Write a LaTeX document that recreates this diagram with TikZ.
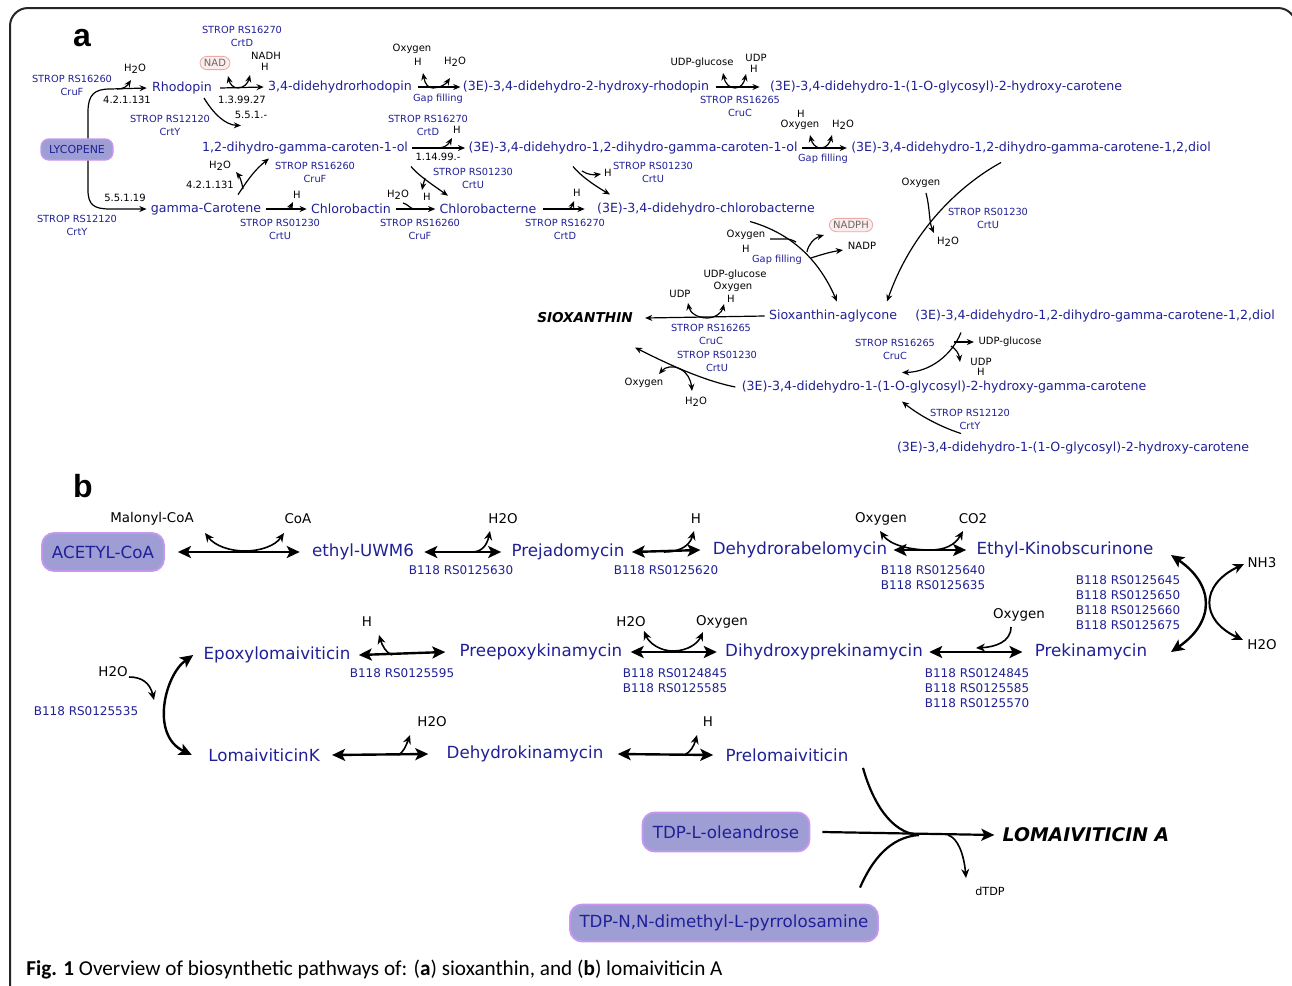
\documentclass[tikz,border=0pt]{standalone}
\usepackage{fontspec}
\setmainfont{DejaVu Sans}
\newfontfamily\capfont{Carlito}
\newfontfamily\lblfont{Liberation Sans}
\usetikzlibrary{arrows.meta}
\definecolor{nblue}{RGB}{32,32,150}
\definecolor{boxfill}{RGB}{158,158,212}
\definecolor{boxdraw}{RGB}{200,150,240}
\definecolor{pinkfill}{RGB}{252,236,236}
\definecolor{pinkdraw}{RGB}{232,170,170}
\definecolor{graytxt}{RGB}{105,105,105}
\newcommand\hto{H\raisebox{-0.35ex}{2}O}
\tikzset{
 na/.style={text=nblue,font=\fontsize{6.3}{7}\selectfont,inner sep=0pt},
 ga/.style={text=nblue,font=\fontsize{4.9}{6.5}\selectfont,inner sep=0pt,align=center},
 ka/.style={text=black,font=\fontsize{5}{6}\selectfont,inner sep=0pt,align=center},
 ra/.style={draw,line width=0.6pt,-{Stealth[length=3.6pt,width=3pt]}},
 la/.style={draw,line width=0.6pt},
 nb/.style={text=nblue,font=\fontsize{8.35}{9}\selectfont,inner sep=0pt},
 gb/.style={text=nblue,font=\fontsize{6}{7.5}\selectfont,inner sep=0pt,align=center},
 kb/.style={font=\fontsize{6.7}{8}\selectfont,inner sep=0pt},
 rb/.style={draw,line width=1.2pt,{Stealth[length=6.5pt,width=6pt,inset=1.5pt]}-{Stealth[length=6.5pt,width=6pt,inset=1.5pt]}},
 sb/.style={draw,line width=0.8pt,-{Stealth[length=4.5pt,width=4pt]}},
 lb/.style={draw,line width=1.1pt},
 boxa/.style={draw=boxdraw,line width=0.7pt,fill=boxfill,rounded corners=4pt,text=nblue,font=\fontsize{5.5}{6}\selectfont,minimum width=36pt,minimum height=10.5pt,inner sep=0pt},
 boxb/.style={draw=boxdraw,line width=0.9pt,fill=boxfill,rounded corners=6pt,text=nblue,font=\fontsize{8.35}{9}\selectfont,minimum height=19pt,inner sep=0pt},
 pill/.style={draw=pinkdraw,fill=pinkfill,text=graytxt,rounded corners=3.5pt,font=\fontsize{5}{6}\selectfont,inner xsep=2pt,inner ysep=1.5pt},
}
\begin{document}
\begin{tikzpicture}[x=0.5pt,y=-0.5pt]
\useasboundingbox (0,0) rectangle (1292,986);
\draw[line width=1pt,black!85,rounded corners=9pt] (10,8) rectangle (1296,1100);
% ---------- panel a ----------
\node[font=\lblfont\bfseries\fontsize{16}{16}\selectfont,inner sep=0pt] (la) at (82,38) {a};
\node[boxa] (lyc) at (77,149.5) {LYCOPENE};
\node[na] (rho) at (182,88) {Rhodopin};
\node[na] (dhr) at (340,87) {3,4-didehydrorhodopin};
\node[na] (hr) at (586,87) {(3E)-3,4-didehydro-2-hydroxy-rhodopin};
\node[na] (gc1) at (946,87) {(3E)-3,4-didehydro-1-(1-O-glycosyl)-2-hydroxy-carotene};
\node[na] (dgc) at (305,148) {1,2-dihydro-gamma-caroten-1-ol};
\node[na] (ddgc) at (633,148) {(3E)-3,4-didehydro-1,2-dihydro-gamma-caroten-1-ol};
\node[na] (diol) at (1031,148) {(3E)-3,4-didehydro-1,2-dihydro-gamma-carotene-1,2,diol};
\node[na] (gcar) at (206,209) {gamma-Carotene};
\node[na] (cbt) at (351,209) {Chlorobactin};
\node[na] (cbn) at (488,209) {Chlorobacterne};
\node[na] (dcbn) at (706,209) {(3E)-3,4-didehydro-chlorobacterne};
\node[font=\bfseries\itshape\fontsize{6.8}{7}\selectfont,inner sep=0pt] (siox) at (585,318) {SIOXANTHIN};
\node[na] (agly) at (833,316) {Sioxanthin-aglycone};
\node[na] (diol2) at (1095,316) {(3E)-3,4-didehydro-1,2-dihydro-gamma-carotene-1,2,diol};
\node[na] (ggc) at (944,387) {(3E)-3,4-didehydro-1-(1-O-glycosyl)-2-hydroxy-gamma-carotene};
\node[na] (gc2) at (1073,448) {(3E)-3,4-didehydro-1-(1-O-glycosyl)-2-hydroxy-carotene};

% lycopene -> rhodopin
\draw[ra] ([xshift=5.5pt]lyc.north) -- (88,112) .. controls (88,95) and (94,89) .. (110,89) -- ([xshift=-2.5pt]rho.west);
\draw[ra] (117,89) .. controls (124,89) and (127,86) .. (131,80);
\node[ka] at (135,69) {\hto};
\node[ka] at (127,100) {4.2.1.131};
\node[ga] at (72,85.5) {STROP RS16260\\CruF};
% lycopene -> gamma-carotene
\draw[ra] ([xshift=5.5pt]lyc.south) -- (88,190) .. controls (88,205) and (94,209) .. (110,209) -- ([xshift=-2pt]gcar.west);
\node[ka] at (125,198) {5.5.1.19};
\node[ga] at (77,225) {STROP RS12120\\CrtY};
% rhodopin -> 3,4-didehydrorhodopin
\draw[ra] ([xshift=4pt]rho.east) -- ([xshift=-2pt]dhr.west);
\draw[ra] (238,88) .. controls (233,88) and (230,84) .. (228,76);
\draw[ra] (238,88) .. controls (244,88) and (248,83) .. (250,75);
\node[pill] (nad) at (215,63) {NAD};
\node[ka] at (266,56) {NADH};
\node[ka] at (265,67) {H};
\node[ka] at (242,100) {1.3.99.27};
\node[ga] at (242,36.5) {STROP RS16270\\CrtD};
% rhodopin -> 1,2-dihydro
\draw[ra] ([xshift=11pt,yshift=-5pt]rho.center) .. controls (213,113) and (225,125) .. ([xshift=-32pt,yshift=8pt]dgc.north);
\node[ga] at (170,125.5) {STROP RS12120\\CrtY};
\node[ka] at (251,115) {5.5.1.-};
% gamma-carotene -> 1,2-dihydro
\draw[ra] ([xshift=16pt,yshift=4pt]gcar.north) .. controls (244,186) and (252,172) .. ([xshift=-18pt,yshift=-2pt]dgc.south);
\draw[ra] (243,189) .. controls (242,183) and (240,177) .. (236,172);
\node[ka] at (220,166) {\hto};
\node[ka] at (210,185) {4.2.1.131};
\node[ga] at (315,172.5) {STROP RS16260\\CruF};
% gamma-carotene -> chlorobactin
\draw[ra] ([xshift=2.5pt]gcar.east) -- ([xshift=-2pt]cbt.west);
\draw[ra] (286,209) .. controls (290,209) and (291,206) .. (293,202);
\node[ka] at (297,195) {H};
\node[ga] at (280,229) {STROP RS01230\\CrtU};
% chlorobactin -> chlorobacterne
\draw[ra] ([xshift=2.5pt]cbt.east) -- ([xshift=-2pt]cbn.west);
\draw[la] (403,203) .. controls (407,204) and (409,207) .. (413,209);
\node[ka] at (398,195) {\hto};
\node[ka] at (427,197) {H};
\node[ga] at (420,229.5) {STROP RS16260\\CruF};
% chlorobacterne -> didehydro-chlorobacterne
\draw[ra] ([xshift=3pt]cbn.east) -- ([xshift=-6pt]dcbn.west);
\draw[ra] (567,209) .. controls (571,209) and (572,206) .. (574,201);
\node[ka] at (577,193) {H};
\node[ga] at (565,229.5) {STROP RS16270\\CrtD};
% 1,2-dihydro -> 3E caroten-1-ol
\draw[ra] ([xshift=2pt]dgc.east) -- ([xshift=-1.5pt]ddgc.west);
\draw[ra] (438,148) .. controls (444,148) and (448,145) .. (452,138);
\node[ka] at (457,130) {H};
\node[ga] at (428,125.5) {STROP RS16270\\CrtD};
\node[ka] at (438,157) {1.14.99.-};
% 1,2-dihydro -> chlorobacterne
\draw[ra] ([xshift=53pt,yshift=-6pt]dgc.south) .. controls (418,175) and (430,183) .. ([xshift=-20pt,yshift=4pt]cbn.north);
\draw[ra] (425,178) .. controls (424,182) and (423,185) .. (422,190);
\node[ga] at (473,178) {STROP RS01230\\CrtU};
% 3E caroten-1-ol -> didehydro-chlorobacterne
\draw[ra] ([xshift=-30pt,yshift=-6pt]ddgc.south) .. controls (580,175) and (592,184) .. ([xshift=-48pt,yshift=4pt]dcbn.north);
\draw[ra] (582,171) .. controls (588,175) and (594,175) .. (601,174);
\node[ka] at (608,173) {H};
\node[ga] at (653,172) {STROP RS01230\\CrtU};
% 3,4-didehydrorhodopin -> 2-hydroxy-rhodopin
\draw[ra] ([xshift=3pt]dhr.east) -- ([xshift=-1pt]hr.west);
\draw[ra] (433,88) .. controls (428,88) and (425,84) .. (423,73);
\draw[ra] (433,88) .. controls (440,88) and (446,84) .. (450,78);
\node[ka] at (412,49) {Oxygen};
\node[ka] at (418,62) {H};
\node[ka] at (455,62) {\hto};
\node[ga] at (438,99) {Gap filling};
% 2-hydroxy-rhodopin -> glycosyl carotene
\draw[ra] ([xshift=3pt]hr.east) -- ([xshift=-5pt]gc1.west);
\draw[ra] (735,88) .. controls (729,88) and (725,83) .. (723,73);
\draw[ra] (735,88) .. controls (741,88) and (744,83) .. (746,74);
\node[ka] at (702,63) {UDP-glucose};
\node[ka] at (756,58) {UDP};
\node[ka] at (754,69) {H};
\node[ga] at (740,106.5) {STROP RS16265\\CruC};
% 3E caroten-1-ol -> diol
\draw[ra] ([xshift=2pt]ddgc.east) -- ([xshift=-2pt]diol.west);
\draw[ra] (821,148) .. controls (815,148) and (812,143) .. (810,135);
\draw[ra] (821,148) .. controls (827,148) and (830,142) .. (832,135);
\node[ka] at (801,114) {H};
\node[ka] at (800,125) {Oxygen};
\node[ka] at (843,125) {\hto};
\node[ga] at (823,159) {Gap filling};
% diol -> aglycone
\draw[ra] ([xshift=-15pt,yshift=-4pt]diol.south) .. controls (960,185) and (912,230) .. ([xshift=27pt,yshift=4pt]agly.north);
\draw[ra] (926,193) .. controls (930,208) and (929,222) .. (934,233);
\node[ka] at (921,183) {Oxygen};
\node[ka] at (948,242) {\hto};
\node[ga] at (988,218) {STROP RS01230\\CrtU};
% didehydro-chlorobacterne -> aglycone
\draw[ra] ([xshift=22pt,yshift=-3pt]dcbn.south) .. controls (790,233) and (818,258) .. ([xshift=2pt,yshift=4pt]agly.north);
\draw[la] (770,239) -- (786,239) .. controls (790,239) and (792,240) .. (796,242);
\draw[ra] (807,252) .. controls (808,245) and (814,238) .. (824,235);
\draw[ra] (811,258) .. controls (820,255) and (830,252) .. (843,250);
\node[pill] (nadph) at (851,225) {NADPH};
\node[ka] at (862,246) {NADP};
\node[ka] at (746,235) {Oxygen};
\node[ka] at (746,249) {H};
\node[ga] at (777,260) {Gap filling};
% aglycone -> sioxanthin
\draw[ra] ([xshift=-2pt]agly.west) -- ([xshift=6pt]siox.east);
\draw[ra] (707,318) .. controls (698,318) and (690,313) .. (688,303);
\draw[ra] (707,318) .. controls (716,318) and (722,312) .. (724,304);
\node[ka] at (680,294) {UDP};
\node[ka] at (735,275) {UDP-glucose};
\node[ka] at (733,287) {Oxygen};
\node[ka] at (731,299) {H};
\node[ga] at (711,334.5) {STROP RS16265\\CruC};
\node[ga] at (717,361.5) {STROP RS01230\\CrtU};
% glycosyl-gamma -> sioxanthin
\draw[ra] ([xshift=-3pt]ggc.west) .. controls (700,380) and (660,360) .. ([xshift=25pt,yshift=-12pt]siox.south);
\draw[ra] (680,369) .. controls (673,365) and (665,367) .. (659,374);
\draw[ra] (680,369) .. controls (687,372) and (691,380) .. (692,391);
\node[ka] at (644,383) {Oxygen};
\node[ka] at (696,402) {\hto};
% diol2 -> glycosyl-gamma
\draw[ra] ([xshift=-67pt,yshift=-5pt]diol2.south) .. controls (952,355) and (930,372) .. ([xshift=-21pt,yshift=4pt]ggc.north);
\draw[ra] (954,342) -- (974,342);
\draw[ra] (951,346) .. controls (956,349) and (959,354) .. (960,362);
\node[ka] at (1010,342) {UDP-glucose};
\node[ka] at (981,362) {UDP};
\node[ka] at (981,372) {H};
\node[ga] at (895,349.5) {STROP RS16265\\CruC};
% carotene -> glycosyl-gamma
\draw[ra] ([xshift=-56pt,yshift=4pt]gc2.north) .. controls (935,425) and (915,412) .. ([xshift=-21pt,yshift=-4pt]ggc.south);
\node[ga] at (970,419) {STROP RS12120\\CrtY};

% ---------- panel b ----------
\node[font=\lblfont\bfseries\fontsize{16}{16}\selectfont,inner sep=0pt] (lb) at (83,486) {b};
\node[boxb,minimum width=61pt] (ace) at (103,552) {ACETYL-CoA};
\node[nb] (eth) at (363,552) {ethyl-UWM6};
\node[nb] (prej) at (568,552) {Prejadomycin};
\node[nb] (dhrab) at (800,550) {Dehydrorabelomycin};
\node[nb] (ekin) at (1065,550) {Ethyl-Kinobscurinone};
\node[nb] (prek) at (1091,652) {Prekinamycin};
\node[nb] (dhpk) at (824,652) {Dihydroxyprekinamycin};
\node[nb] (prep) at (541,652) {Preepoxykinamycin};
\node[nb] (epox) at (277,655) {Epoxylomaiviticin};
\node[nb] (lomk) at (264,755) {LomaiviticinK};
\node[nb] (dhk) at (525,754) {Dehydrokinamycin};
\node[nb] (prel) at (787,755) {Prelomaiviticin};
\node[boxb,minimum width=83.5pt,minimum height=19.5pt] (olea) at (726,832) {TDP-L-oleandrose};
\node[boxb,minimum width=154pt,minimum height=18.5pt] (pyr) at (724,923) {TDP-N,N-dimethyl-L-pyrrolosamine};
\node[font=\bfseries\itshape\fontsize{9.4}{10}\selectfont,inner sep=0pt] (lomA) at (1086,835) {LOMAIVITICIN A};

% acetyl <-> ethyl
\draw[rb] ([xshift=6.5pt]ace.east) -- ([xshift=-6pt]eth.west);
\draw[sb] (245,551) .. controls (230,551) and (215,546) .. (205,533);
\draw[sb] (245,551) .. controls (260,551) and (275,546) .. (284,533);
\node[kb] at (152,519) {Malonyl-CoA};
\node[kb] at (298,519) {CoA};
% ethyl <-> prejadomycin
\draw[rb] ([xshift=5pt]eth.east) -- ([xshift=-5pt]prej.west);
\draw[sb] (472,552) .. controls (482,552) and (487,545) .. (490,531);
\node[kb] at (503,519) {H2O};
\node[gb] at (461,570) {B118 RS0125630};
% prej <-> dehydrorabelomycin
\draw[rb] ([xshift=3.5pt]prej.east) -- ([xshift=-6pt]dhrab.west);
\draw[sb] (664,552) .. controls (676,552) and (689,548) .. (694,531);
\node[kb] at (696,519) {H};
\node[gb] at (666,570) {B118 RS0125620};
% dehydrorabelomycin <-> ethyl-kinobscurinone
\draw[rb] ([xshift=3pt]dhrab.east) -- ([xshift=-5pt]ekin.west);
\draw[sb] (930,550) .. controls (910,550) and (890,545) .. (880,531);
\draw[sb] (930,550) .. controls (945,550) and (955,545) .. (963,531);
\node[kb] at (881,519) {Oxygen};
\node[kb] at (973,519) {CO2};
\node[gb] at (933,577.5) {B118 RS0125640\\B118 RS0125635};
% ethyl-kinobscurinone <-> prekinamycin
\draw[rb] (1171,555) .. controls (1215,585) and (1215,622) .. (1171,652);
\draw[sb,{Stealth[length=5.5pt,width=5pt]}-{Stealth[length=5.5pt,width=5pt]},line width=1pt] (1244,564) .. controls (1200,585) and (1200,620) .. (1243,640);
\node[kb] at (1262,563) {NH3};
\node[kb] at (1262,645) {H2O};
\node[gb] at (1128,602.5) {B118 RS0125645\\B118 RS0125650\\B118 RS0125660\\B118 RS0125675};
% prekinamycin <-> dihydroxyprekinamycin
\draw[rb] ([xshift=-6pt]prek.west) -- ([xshift=3pt]dhpk.east);
\draw[sb] (1011,627) .. controls (1011,642) and (995,647) .. (976,648);
\node[kb] at (1019,615) {Oxygen};
\node[gb] at (977,688) {B118 RS0124845\\B118 RS0125585\\B118 RS0125570};
% dihydroxy <-> preepoxy
\draw[rb] ([xshift=-4pt]dhpk.west) -- ([xshift=4pt]prep.east);
\draw[sb] (673,651) .. controls (660,651) and (649,643) .. (644,631);
\draw[sb] (673,651) .. controls (688,651) and (698,643) .. (703,632);
\node[kb] at (631,622) {H2O};
\node[kb] at (722,622) {Oxygen};
\node[gb] at (675,680.5) {B118 RS0124845\\B118 RS0125585};
% preepoxy <-> epoxylomaiviticin
\draw[rb] ([xshift=-7pt]prep.west) -- ([xshift=4pt]epox.east);
\draw[sb] (392,655) .. controls (386,653) and (382,645) .. (379,635);
\node[kb] at (367,622) {H};
\node[gb] at (402,673) {B118 RS0125595};
% epoxy <-> lomaiviticinK
\draw[rb] ([xshift=-5pt]epox.west) .. controls (165,675) and (150,735) .. ([xshift=-8pt]lomk.west);
\draw[sb] (129,677) .. controls (142,677) and (150,683) .. (154,700);
\node[kb] at (113,672) {H2O};
\node[gb] at (86,711) {B118 RS0125535};
% lomaiviticinK <-> dehydrokinamycin
\draw[rb] ([xshift=6pt]lomk.east) -- ([xshift=-9pt]dhk.west);
\draw[sb] (398,755) .. controls (403,753) and (406,746) .. (410,735);
\node[kb] at (432,722) {H2O};
% dehydrokinamycin <-> prelomaiviticin
\draw[rb] ([xshift=7pt]dhk.east) -- ([xshift=-6pt]prel.west);
\draw[sb] (684,755) .. controls (690,753) and (694,746) .. (697,735);
\node[kb] at (708,722) {H};
% convergence to lomaiviticin A
\draw[lb] ([xshift=38pt,yshift=-3pt]prel.south) .. controls (872,800) and (890,833) .. (919,835);
\draw[lb] ([xshift=68pt,yshift=8pt]pyr.north) .. controls (872,860) and (890,837) .. (919,835);
\draw[lb,-{Stealth[length=6.5pt,width=6pt,inset=1.5pt]}] ([xshift=6pt]olea.east) -- ([xshift=-4pt]lomA.west);
\draw[sb] (948,835) .. controls (958,838) and (964,855) .. (966,878);
\node[font=\fontsize{5.6}{6}\selectfont,inner sep=0pt] at (990,891) {dTDP};

% caption
\node[anchor=west,inner sep=0pt,font=\capfont\fontsize{10.6}{11}\selectfont] (cap) at (26,970) {\textbf{Fig. 1} Overview of biosynthetic pathways of: (\textbf{a}) sioxanthin, and (\textbf{b}) lomaiviticin A};
\end{tikzpicture}
\end{document}
